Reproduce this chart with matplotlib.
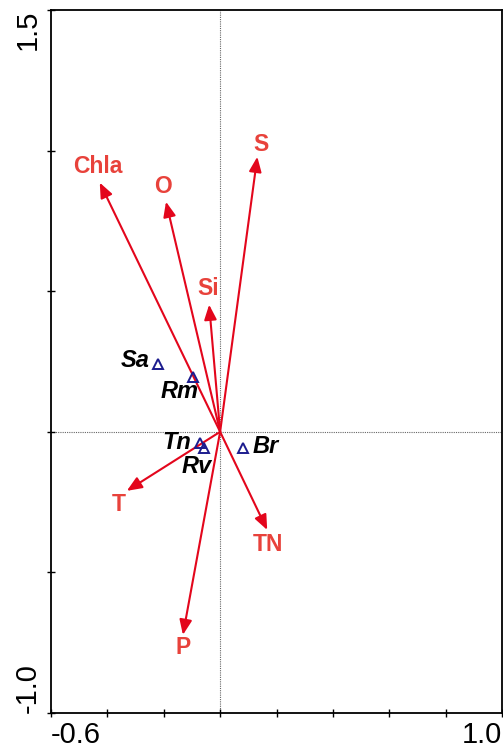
import numpy as np
import matplotlib
matplotlib.use("Agg")
import matplotlib.pyplot as plt

plt.rcParams['font.family'] = ['Liberation Sans', 'DejaVu Sans']

# Environmental variable vectors (biplot scores)
env_names = ["Chla", "O", "S", "Si", "T", "TN", "P"]
env_x = [-0.427, -0.192, 0.132, -0.039, -0.331, 0.167, -0.132]
env_y = [0.886, 0.818, 0.978, 0.452, -0.210, -0.349, -0.722]

# Species scores
sp_names = ["Sa", "Rm", "Tn", "Rv", "Br"]
sp_x = [-0.220, -0.096, -0.071, -0.057, 0.082]
sp_y = [0.242, 0.196, -0.039, -0.057, -0.057]

# Axis ticks
x_ticks = np.round(np.arange(-0.6, 1.01, 0.2), 1)
y_ticks = np.round(np.arange(-1.0, 1.51, 0.5), 1)
x_tick_labels = ["-0.6", "", "", "", "", "", "", "", "1.0"]
y_tick_labels = ["-1.0", "", "", "", "", "1.5"]

# Label offsets in pixels (layout only)
env_offsets = [(-2, 16), (-3, 15), (4, 12), (-1, 16), (-8, -14), (1, -15), (0, -13)]
sp_offsets = [(-23, 3), (-13, -15), (-23, 0), (-7, -19), (22, 1)]

arrow_color = "#e3061c"
env_text_color = "#e8423b"
sp_color = "#1c1c8e"

fig = plt.figure(figsize=(5.03, 7.54), dpi=100)
W, H = 503, 754
ax = fig.add_axes([51 / W, (H - 713) / H, (502 - 51) / W, (713 - 10) / H])
ax.set_xlim(-0.6, 1.0)
ax.set_ylim(-1.0, 1.5)

# Zero reference lines
ax.axhline(0, color="#666666", lw=0.8, dashes=(1, 1), zorder=1)
ax.axvline(0, color="#666666", lw=0.8, dashes=(1, 1), zorder=1)

# Environmental arrows
for name, x, y, off in zip(env_names, env_x, env_y, env_offsets):
    ax.annotate("", xy=(x, y), xytext=(0, 0),
                arrowprops=dict(arrowstyle="-|>,head_length=0.6,head_width=0.25",
                                mutation_scale=15, color=arrow_color, lw=1.5,
                                shrinkA=0, shrinkB=0), zorder=3)
    ax.annotate(name, xy=(x, y), xytext=off, textcoords="offset pixels",
                ha="center", va="center", fontsize=16.5, fontweight="bold",
                color=env_text_color, zorder=4)

# Species markers
ax.plot(sp_x, sp_y, linestyle="none", marker="^", markersize=7.5,
        markerfacecolor="none", markeredgecolor=sp_color, markeredgewidth=1.4, zorder=5)
for name, x, y, off in zip(sp_names, sp_x, sp_y, sp_offsets):
    ax.annotate(name, xy=(x, y), xytext=off, textcoords="offset pixels",
                ha="center", va="center", fontsize=17, fontweight="bold",
                fontstyle="italic", color="black", zorder=6)

# Axes frame and ticks
for s in ax.spines.values():
    s.set_linewidth(1.3)
ax.set_xticks(x_ticks)
ax.set_xticklabels(x_tick_labels, fontsize=21)
ax.set_yticks(y_ticks)
ax.set_yticklabels(y_tick_labels, fontsize=21, rotation=90)
ax.tick_params(direction="inout", length=6, width=1.0, pad=4)
ax.tick_params(axis="x", pad=3)

xl = ax.get_xticklabels()
xl[0].set_ha("left")
xl[-1].set_ha("right")
yl = ax.get_yticklabels()
yl[0].set_va("bottom")
yl[-1].set_va("top")

fig.savefig("out.png", dpi=100)
